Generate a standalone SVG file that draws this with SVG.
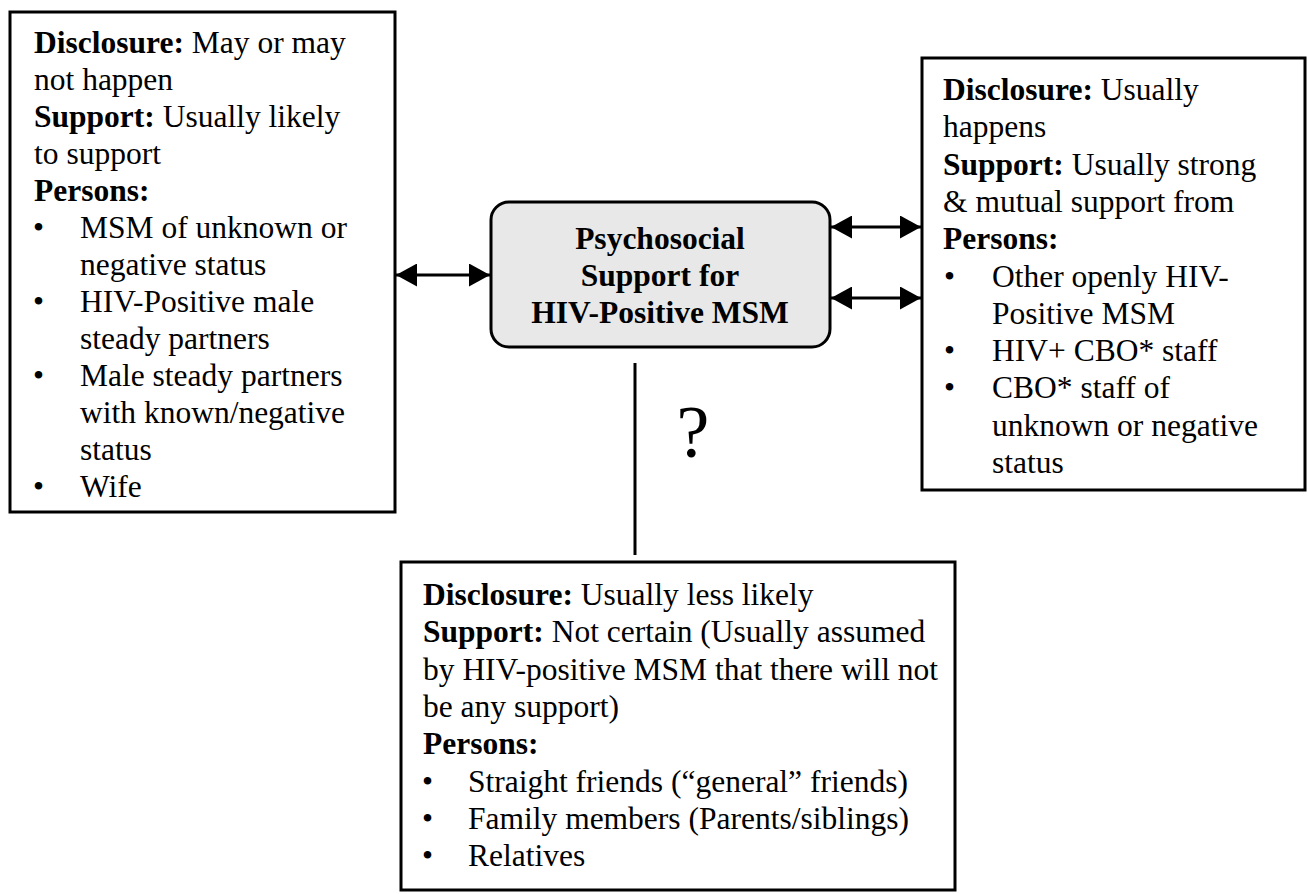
<svg xmlns="http://www.w3.org/2000/svg" width="1308" height="894" viewBox="0 0 1308 894">
<defs>
<style>
.box{fill:#fff;stroke:#000;stroke-width:3}
.core{fill:#e8e8e8;stroke:#000;stroke-width:3}
.t{font-family:"Liberation Serif","Times New Roman",serif;font-size:31.5px;fill:#000}
.b{font-weight:bold}
.ct{font-family:"Liberation Serif","Times New Roman",serif;font-size:31.5px;font-weight:bold;fill:#000;text-anchor:middle}
.q{font-family:"Liberation Serif","Times New Roman",serif;font-size:74px;fill:#000;text-anchor:middle}
.ln{stroke:#000;stroke-width:3;fill:none}
</style>
<marker id="ah" viewBox="0 0 21 23" refX="21" refY="11.5" markerWidth="21" markerHeight="23" markerUnits="userSpaceOnUse" orient="auto-start-reverse">
<path d="M0,0 L21,11.5 L0,23 z" fill="#000"/>
</marker>
</defs>
<rect width="1308" height="894" fill="#fff"/>

<g id="connectors">
<line class="ln" x1="396" y1="275" x2="490" y2="275" marker-start="url(#ah)" marker-end="url(#ah)"/>
<line class="ln" x1="831" y1="227" x2="921" y2="227" marker-start="url(#ah)" marker-end="url(#ah)"/>
<line class="ln" x1="831" y1="298" x2="921" y2="298" marker-start="url(#ah)" marker-end="url(#ah)"/>
<line class="ln" x1="635" y1="363" x2="635" y2="555"/>
<text class="q" x="693" y="457">?</text>
</g>

<g id="left-box">
<rect class="box" x="10" y="12" width="385" height="500"/>
<text class="t" x="34" y="53"><tspan class="b">Disclosure:</tspan> May or may</text>
<text class="t" x="34" y="90">not happen</text>
<text class="t" x="34" y="127"><tspan class="b">Support:</tspan> Usually likely</text>
<text class="t" x="34" y="164">to support</text>
<text class="t b" x="34" y="201">Persons:</text>
<text class="t" x="33" y="238">•</text><text class="t" x="80" y="238">MSM of unknown or</text>
<text class="t" x="80" y="275">negative status</text>
<text class="t" x="33" y="312">•</text><text class="t" x="80" y="312">HIV-Positive male</text>
<text class="t" x="80" y="349">steady partners</text>
<text class="t" x="33" y="386">•</text><text class="t" x="80" y="386">Male steady partners</text>
<text class="t" x="80" y="423">with known/negative</text>
<text class="t" x="80" y="460">status</text>
<text class="t" x="33" y="497">•</text><text class="t" x="80" y="497">Wife</text>
</g>

<g id="center-box">
<rect class="core" x="491" y="202" width="339" height="145" rx="18" ry="18"/>
<text class="ct" x="660" y="249">Psychosocial</text>
<text class="ct" x="660" y="286">Support for</text>
<text class="ct" x="660" y="323">HIV-Positive MSM</text>
</g>

<g id="right-box">
<rect class="box" x="922" y="58" width="383" height="432"/>
<text class="t" x="943" y="100"><tspan class="b">Disclosure:</tspan> Usually</text>
<text class="t" x="943" y="137">happens</text>
<text class="t" x="943" y="175"><tspan class="b">Support:</tspan> Usually strong</text>
<text class="t" x="943" y="212">&amp; mutual support from</text>
<text class="t b" x="943" y="249">Persons:</text>
<text class="t" x="944" y="287">•</text><text class="t" x="992" y="287">Other openly HIV-</text>
<text class="t" x="992" y="324">Positive MSM</text>
<text class="t" x="944" y="361">•</text><text class="t" x="992" y="361">HIV+ CBO* staff</text>
<text class="t" x="944" y="398">•</text><text class="t" x="992" y="398">CBO* staff of</text>
<text class="t" x="992" y="436">unknown or negative</text>
<text class="t" x="992" y="473">status</text>
</g>

<g id="bottom-box">
<rect class="box" x="401" y="562" width="554" height="328"/>
<text class="t" x="423" y="605"><tspan class="b">Disclosure:</tspan> Usually less likely</text>
<text class="t" x="423" y="642"><tspan class="b">Support:</tspan> Not certain (Usually assumed</text>
<text class="t" x="423" y="680">by HIV-positive MSM that there will not</text>
<text class="t" x="423" y="717">be any support)</text>
<text class="t b" x="423" y="754">Persons:</text>
<text class="t" x="422" y="792">•</text><text class="t" x="468" y="792">Straight friends (“general” friends)</text>
<text class="t" x="422" y="829">•</text><text class="t" x="468" y="829">Family members (Parents/siblings)</text>
<text class="t" x="422" y="866">•</text><text class="t" x="468" y="866">Relatives</text>
</g>
</svg>
